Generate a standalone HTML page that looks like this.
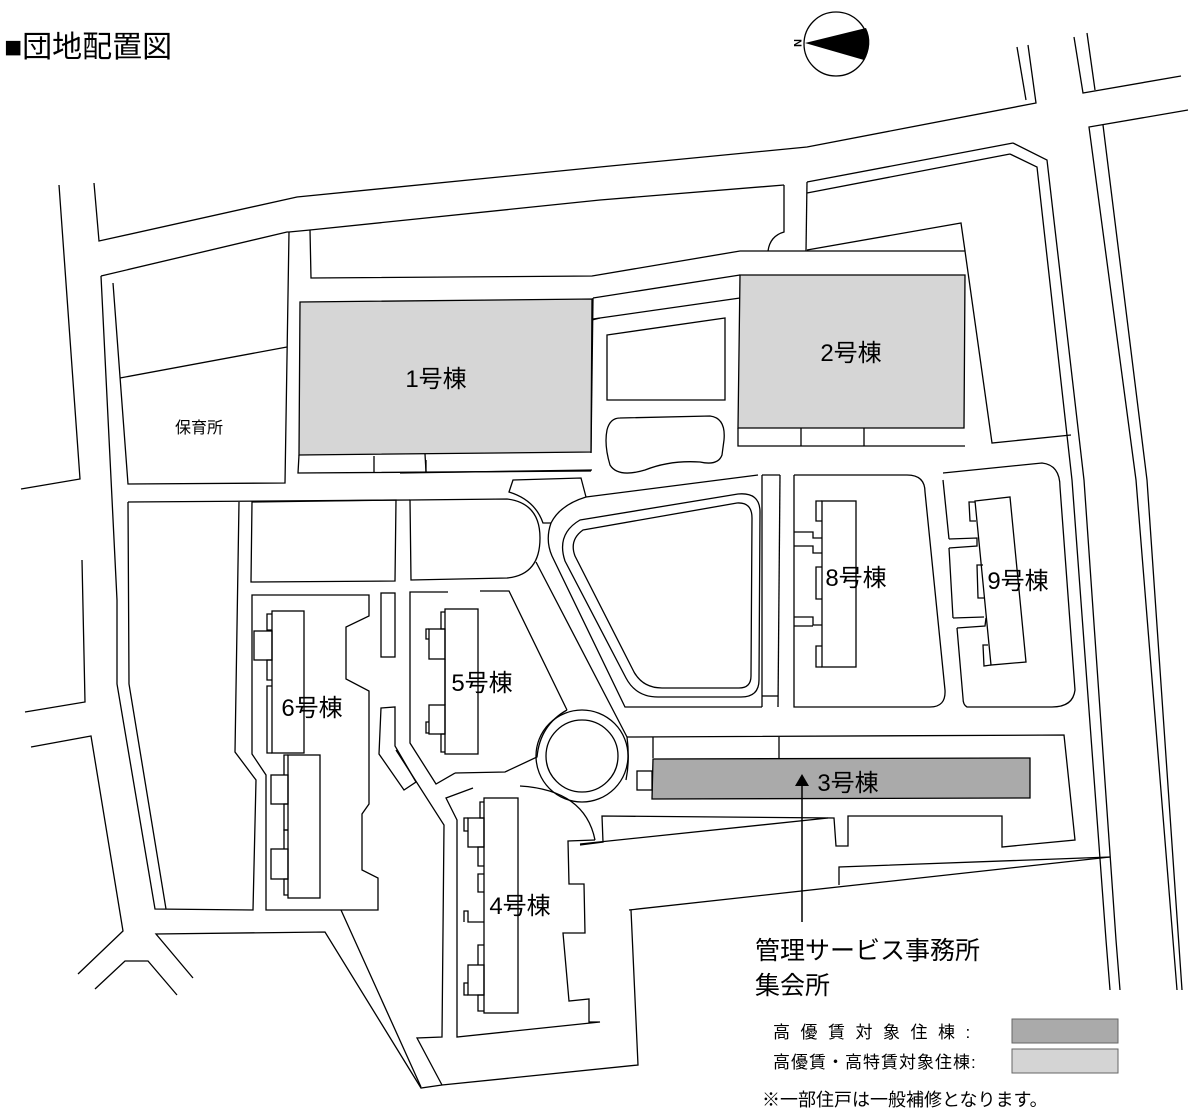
<!DOCTYPE html>
<html><head><meta charset="utf-8"><style>
html,body{margin:0;padding:0;background:#fff;}
svg{display:block;}
text{font-family:"Liberation Sans","Noto Sans CJK JP",sans-serif;fill:#000;}
</style></head><body>
<svg width="1192" height="1119" viewBox="0 0 1192 1119" xmlns="http://www.w3.org/2000/svg">
<text x="4" y="57" font-size="30">■団地配置図</text>

<!-- compass -->
<ellipse cx="836" cy="44" rx="32" ry="32" fill="#fff" stroke="#000" stroke-width="1.3"/>
<path d="M805,43 L866,28 A32,32 0 0 1 864,60 Z" fill="#000"/>
<text x="0" y="0" font-size="11" font-weight="bold" transform="translate(794,43) rotate(90)" text-anchor="middle">N</text>

<g fill="none" stroke="#000" stroke-width="1.3">
<!-- top roads -->
<polyline points="59,185 80,479 21,489"/>
<polyline points="94,183 99,241 297,197 600,167 807,147 1036,103 1028,45"/>
<polyline points="1017,47 1026,100"/>
<polyline points="1074,37 1083,93 1181,76"/>
<polyline points="1087,33 1095,90"/>
<polyline points="1188,110 1089,127 1136,480 1177,990"/>
<polyline points="1103,125 1147,480 1182,990"/>
<polyline points="1013,143 1047,160 1084,480 1116,940 1120,990"/>
<polyline points="1010,154 1037,167 1072,480 1106,940 1110,990"/>

<polyline points="101,276 287,232 289,232 310,230 600,200 784,185"/>
<polyline points="807,182 1013,143"/>
<path d="M784,185 L784,232 Q770,236 768,251"/>
<polyline points="807,182 806,251"/>
<polyline points="807,193 1010,154"/>
<polyline points="310,230 311,278 592,276 740,251 965,251 992,443 1071,435"/>
<polyline points="807,250 961,223 965,251"/>
<polyline points="593,298 740,275"/>
<polyline points="593,319 740,298"/>
<polyline points="593,298 591,453"/>
<polygon points="607,335 725,318 725,400 607,400"/>
<path d="M620,418 L710,416 Q726,418 724,440 L722,455 Q718,466 700,462 Q670,460 645,470 Q618,478 610,465 Q604,445 607,430 Q610,418 620,418 Z"/>

<!-- left parcel -->
<polyline points="101,276 117,600 117,684 155,909 253,910 256,780 235,752 239,502"/>
<polyline points="113,283 128,484 285,483 289,232"/>
<polyline points="120,378 287,347"/>
<polyline points="128,502 129,684 166,909"/>
<polyline points="128,502 410,500"/>
<path d="M410,500 L507,499 Q540,503 540,538 Q540,575 507,578 L411,580 Z"/>
<polygon points="252,502 251,582 395,581 396,500"/>
<polyline points="400,473 592,470"/>
<polyline points="426,460 426,472"/>
<polyline points="82,560 85,702 25,712"/>
<polyline points="31,747 91,736 123,931 78,974"/>
<polyline points="95,989 125,961 148,961 177,995"/>
<polyline points="193,978 156,934 325,932 421,1088 442,1085 638,1065 631,910"/>

<!-- 1号棟 -->
<polygon points="300,302 592,299 591,452 299,455" fill="#d6d6d6"/>
<polyline points="299,455 298,473 591,471"/>
<polyline points="374,456 374,473"/>
<polyline points="425,454 426,472"/>
<polyline points="592,320 600,318"/>
<!-- 2号棟 -->
<polygon points="740,275 965,275 964,428 738,428" fill="#d6d6d6"/>
<polyline points="738,428 738,446 965,446"/>
<polyline points="801,428 801,446"/>
<polyline points="864,428 864,446"/>

<!-- trapezoid island -->
<path d="M513,480 L581,478 L586,497 Q560,505 551,523 L543,523 Q535,500 509,492 Z"/>
<!-- track -->
<path d="M586,497 L758,475"/>
<path d="M583,530 L737,503 Q752,502 752,518 L751,676 Q751,688 739,688 L662,688 Q643,688 634,672 L575,556 Q569,540 583,530 Z"/>
<path d="M580,520 L738,494 Q760,492 760,512 L759,680 Q759,697 741,697 L658,697 Q636,697 626,678 L565,561 Q556,534 580,520 Z"/>
<path d="M551,523 Q545,540 552,556 L625,707 L762,707"/>
<path d="M536,562 L627,737"/>
<polyline points="762,475 780,475"/>
<polyline points="762,475 762,707"/>
<polyline points="780,475 778,707"/>
<polyline points="762,696 778,696"/>

<!-- circle -->
<circle cx="582" cy="756" r="46"/>
<circle cx="582" cy="756" r="36"/>
<path d="M567,710 Q540,725 537,757 L505,772 L455,773"/>
<path d="M520,786 Q585,790 595,840"/>
<path d="M627,737 Q630,760 626,780"/>

<!-- 8 block -->
<path d="M794,475 L907,475 Q925,475 925,492 L945,690 Q946,707 930,707 L794,707 L794,617 M794,546 L794,532 L794,475"/>
<polyline points="794,532 813,532 813,538 822,538"/>
<polyline points="794,546 813,546 813,553 822,553"/>
<polyline points="794,546 794,617"/>
<polyline points="794,617 813,617 813,625 822,625"/>
<polyline points="794,626 813,626"/>
<rect x="822" y="501" width="34" height="166" fill="#fff"/>
<polyline points="822,501 816,501 816,521 822,521"/>
<polyline points="822,567 816,567 816,599 822,599"/>
<polyline points="822,646 816,646 816,667 822,667"/>

<!-- 9 block -->
<path d="M943,473 L1042,463 Q1060,465 1060,487 L1075,690 Q1073,707 1052,707 L967,707 Q963,705 963,698 L957,628 M953,618 L949,548 M949,539 L943,480 Z"/>
<polygon points="975,501 1010,497 1026,662 991,665" fill="#fff"/>
<polyline points="975,502 969,502 970,521 976,521"/>
<polyline points="949,539 977,538 977,546 949,548"/>
<polyline points="953,618 984,617"/>
<polyline points="957,628 985,626 986,618"/>
<polyline points="983,565 977,565 978,598 984,598"/>
<polyline points="988,645 983,645 984,666 991,665"/>

<!-- 3 block -->
<polyline points="627,737 1064,735 1075,840 1002,847 1002,816 848,816 848,846 836,846 834,818 602,816 603,842 580,845"/>
<polyline points="653,737 653,758"/>
<polyline points="779,737 779,758"/>
<polygon points="653,759 1030,758 1030,798 652,799" fill="#aaa"/>
<rect x="637" y="771" width="15" height="19"/>
<polyline points="580,844 828,818"/>
<polyline points="629,910 1110,857"/>
<polyline points="839,885 839,867 1110,857"/>

<!-- 6 block -->
<polygon points="252,595 369,595 369,616 346,627 346,679 369,691 369,804 362,814 362,870 378,878 378,910 266,910 266,775 252,754"/>
<rect x="272" y="611" width="32" height="142" fill="#fff"/>
<polyline points="272,614 267,614 267,630 272,630"/>
<rect x="254" y="631" width="18" height="29"/>
<polyline points="272,660 267,660 267,680 272,680"/>
<polyline points="272,686 267,686 267,753 272,753"/>
<rect x="288" y="755" width="32" height="143" fill="#fff"/>
<polyline points="288,755 284,755 284,775"/>
<rect x="271" y="775" width="17" height="29"/>
<polyline points="288,804 284,804 284,830 288,830"/>
<polyline points="288,830 284,830 284,849"/>
<rect x="271" y="849" width="17" height="30"/>
<polyline points="288,879 284,879 284,895 288,895"/>
<rect x="381" y="593" width="14" height="64"/>
<polygon points="381,708 395,707 395,746 416,782 404,790 379,754"/>

<!-- 5 block -->
<polyline points="448,592 410,592 410,743 436,784 455,773"/>
<polyline points="480,591 509,591 567,710"/>
<rect x="445" y="609" width="33" height="145" fill="#fff"/>
<polyline points="445,612 441,612 441,629 445,629"/>
<rect x="429" y="629" width="16" height="30"/>
<polyline points="429,629 426,629 426,639 429,639"/>
<polyline points="445,659 445,705"/>
<rect x="429" y="705" width="16" height="29"/>
<polyline points="429,722 426,722 426,733 429,733"/>
<polyline points="445,734 441,734 441,752 445,752"/>

<!-- 6-4 roads -->
<polyline points="396,750 444,825 442,1037 417,1038 442,1085"/>
<polyline points="341,910 421,1087"/>
<polyline points="473,788 446,798 457,820 457,1037 600,1022 589,1022 589,999 569,1001 563,933 585,933 584,884 569,884 568,841 595,840"/>
<!-- 4号棟 -->
<rect x="484" y="798" width="34" height="215" fill="#fff"/>
<polyline points="484,802 480,802 480,818 484,818"/>
<rect x="468" y="818" width="16" height="29"/>
<polyline points="468,818 464,818 464,831 468,831"/>
<polyline points="484,847 478,847 478,866 484,866"/>
<polyline points="484,874 478,874 478,892 484,892"/>
<polyline points="484,922 468,922 468,911 464,911 464,922"/>
<polyline points="484,945 478,945 478,965"/>
<rect x="468" y="965" width="16" height="30"/>
<polyline points="468,983 464,983 464,995 468,995"/>
<polyline points="484,995 478,995 478,1011 484,1011"/>
</g>
<line x1="802" y1="784" x2="802" y2="922" stroke="#000" stroke-width="1.5"/>
<polygon points="802,774 795,786 809,786" fill="#000"/>

<!-- labels -->
<g font-size="24">
<text x="436" y="387" text-anchor="middle">1号棟</text>
<text x="851" y="361" text-anchor="middle">2号棟</text>
<text x="848" y="791" text-anchor="middle">3号棟</text>
<text x="520" y="914" text-anchor="middle">4号棟</text>
<text x="482" y="691" text-anchor="middle">5号棟</text>
<text x="312" y="716" text-anchor="middle">6号棟</text>
<text x="856" y="586" text-anchor="middle">8号棟</text>
<text x="1018" y="589" text-anchor="middle">9号棟</text>
</g>
<text x="199" y="433" font-size="16" text-anchor="middle">保育所</text>

<!-- legend -->
<text x="755" y="959" font-size="25">管理サービス事務所</text>
<text x="755" y="994" font-size="25">集会所</text>
<text x="773" y="1038" font-size="17" letter-spacing="10.5">高優賃対象住棟:</text>
<rect x="1012" y="1019" width="106" height="24" fill="#aaa" stroke="#666" stroke-width="1"/>
<text x="773" y="1068" font-size="17" letter-spacing="1">高優賃・高特賃対象住棟:</text>
<rect x="1012" y="1049" width="106" height="24" fill="#d4d4d4" stroke="#666" stroke-width="1"/>
<text x="762" y="1106" font-size="18">※一部住戸は一般補修となります。</text>
</svg>
</body></html>
